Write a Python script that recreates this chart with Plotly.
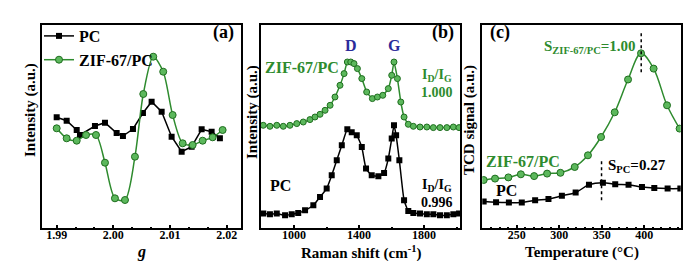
import plotly.graph_objects as go

# ---------------- data ----------------
# (a) EPR
a_pc_g = [1.9900, 1.99176, 1.99353, 1.99411, 1.99675, 1.99852, 2.00058, 2.00169, 2.00346,
          2.00522, 2.00675, 2.00852, 2.01028, 2.01205, 2.01381, 2.01558, 2.01734, 2.01880]
a_pc_i = [12.7, 9.3, 0.0, -5.0, 4.0, 7.3, -3.0, -6.0, 1.0,
          17.0, 28.3, 18.3, -6.7, -21.7, -16.7, 0.7, -1.7, -8.3]
a_zif_g = [1.99000, 1.99176, 1.99353, 1.99517, 1.99693, 1.99852, 2.00028, 2.00205, 2.00381,
           2.00528, 2.00704, 2.00880, 2.01046, 2.01223, 2.01399, 2.01575, 2.01752, 2.01928]
a_zif_i = [1.7, -8.3, -10.7, -5.0, -5.0, -32.7, -68.3, -70.0, -26.7,
           36.0, 73.3, 58.3, 15.0, -13.3, -15.0, -10.7, -7.3, 0.0]

# (b) Raman
b_zif_x = [811, 852, 894, 934, 975, 1017, 1057, 1098, 1129, 1160, 1191, 1222, 1252, 1283, 1308,
           1328, 1349, 1369, 1390, 1417, 1447, 1482, 1513, 1546, 1580, 1601, 1615, 1636, 1657,
           1677, 1703, 1734, 1775, 1817, 1857, 1898, 1940, 1980, 2015]
b_zif_y = [103, 102, 103, 102, 103, 104.7, 106.3, 108.7, 111.3, 114, 118, 123, 131.3, 143, 154.7,
           166.3, 166.3, 164.7, 159.7, 149.7, 136.3, 129.7, 131.3, 133, 139.7, 153, 166.3, 149.7, 126.3,
           111.3, 104, 102, 101.3, 101.3, 100.7, 100.7, 100.7, 101.3, 100.7]
b_pc_x = [811, 852, 894, 945, 986, 1026, 1068, 1119, 1160, 1201, 1232, 1263, 1294, 1328, 1355,
          1386, 1417, 1443, 1478, 1519, 1554, 1580, 1601, 1615, 1628, 1648, 1677, 1703, 1734, 1775,
          1817, 1857, 1898, 1940, 1980, 2015]
b_pc_y = [14.7, 14, 14.7, 13, 14, 15.3, 18, 23, 31.3, 39.7, 53, 68, 83, 99, 96,
          93, 81.3, 59.7, 53, 52, 55.3, 69.7, 89.7, 103, 93, 68, 28, 17.3, 15.3, 14.7,
          14, 14, 13, 13, 14, 14.7]

# (c) TPD
c_zif_t = [211, 224.4, 240.1, 254.8, 270.4, 285.7, 301.4, 318.2, 333.8, 349.2, 365.3, 381.0,
           396.3, 411.1, 426.9, 441.7]
c_zif_s = [48.3, 49.7, 50.9, 54.0, 52.2, 54.7, 55.5, 61.3, 73.0, 91.3, 116.0, 148.8,
           175.0, 159.7, 123.0, 99.7]
c_pc_t = [211, 225.6, 240.7, 255.9, 271.6, 287.3, 303.1, 319.3, 335.0, 351.4, 365.9, 381.6,
          397.4, 411.9, 427.6, 442.6]
c_pc_s = [26.7, 26.0, 25.7, 25.7, 28.0, 29.3, 32.5, 35.8, 43.5, 45.5, 44.0, 43.5,
          41.3, 40.2, 39.7, 39.7]

a_ticks = [1.99, 2.00, 2.01, 2.02]
b_ticks = [1000, 1400, 1800]
c_ticks = [250, 300, 350, 400]

# ---------------- style ----------------
# the page body has an 8px margin, so the figure is drawn 16px smaller and offset
OFF = 8
W, H = 700 - 2 * OFF, 269 - 2 * OFF
FONT = "Liberation Serif"
GREEN = "#2e8b2e"
GREEN_FILL = "#5cb85c"
BLUE = "#2b2b9a"


def px(x):
    return (x - OFF) / W


def py(y):
    return 1 - (y - OFF) / H


ytop, ybot = 25, 228.3
dom_y = [py(ybot), py(ytop)]
doms = [[42.3, 240.7], [261, 460], [482.3, 680.7]]

fig = go.Figure()

green_marker = dict(symbol="circle", size=7, color=GREEN_FILL, line=dict(color="#1f6e1f", width=1))
black_marker = dict(symbol="square", size=6, color="black")

# (a)
fig.add_trace(go.Scatter(x=a_pc_g, y=a_pc_i, mode="lines+markers", name="PC",
                         line=dict(color="black", width=1.5), marker=black_marker,
                         xaxis="x", yaxis="y"))
fig.add_trace(go.Scatter(x=a_zif_g, y=a_zif_i, mode="lines+markers", name="ZIF-67/PC",
                         line=dict(color=GREEN, width=1.5, shape="spline", smoothing=0.8),
                         marker=green_marker, xaxis="x", yaxis="y"))
# (b)
fig.add_trace(go.Scatter(x=b_zif_x, y=b_zif_y, mode="lines+markers", showlegend=False,
                         line=dict(color=GREEN, width=1.5, shape="spline", smoothing=0.4),
                         marker=dict(green_marker, size=6), xaxis="x2", yaxis="y2"))
fig.add_trace(go.Scatter(x=b_pc_x, y=b_pc_y, mode="lines+markers", showlegend=False,
                         line=dict(color="black", width=1.5, shape="spline", smoothing=0.4),
                         marker=black_marker, xaxis="x2", yaxis="y2"))
# (c)
fig.add_trace(go.Scatter(x=c_zif_t, y=c_zif_s, mode="lines+markers", showlegend=False,
                         line=dict(color=GREEN, width=1.5, shape="spline", smoothing=1.0),
                         marker=green_marker, xaxis="x3", yaxis="y3"))
fig.add_trace(go.Scatter(x=c_pc_t, y=c_pc_s, mode="lines+markers", showlegend=False,
                         line=dict(color="black", width=1.5, shape="spline", smoothing=1.0),
                         marker=black_marker, xaxis="x3", yaxis="y3"))

tickfont = dict(family=FONT, size=12, color="black", weight="bold")
common_x = dict(showline=True, mirror=True, linecolor="black", linewidth=1.5,
                ticks="inside", ticklen=4, tickwidth=1.5, tickcolor="black",
                ticklabelstandoff=-5,
                showgrid=False, zeroline=False, tickfont=tickfont)
common_y = dict(showline=True, mirror=True, linecolor="black", linewidth=1.5,
                ticks="", showticklabels=False, showgrid=False, zeroline=False)

fig.update_layout(
    width=W, height=H, margin=dict(l=0, r=0, t=0, b=0),
    paper_bgcolor="white", plot_bgcolor="white",
    xaxis=dict(common_x, domain=[px(doms[0][0]), px(doms[0][1])], range=[1.98746, 2.02247],
               tickvals=a_ticks, ticktext=[f"{v:.2f}" for v in a_ticks],
               minor=dict(ticks="inside", ticklen=2, tickcolor="black", dtick=0.01 / 3, tick0=1.99)),
    yaxis=dict(common_y, domain=dom_y, range=[-98.3, 105]),
    xaxis2=dict(common_x, domain=[px(doms[1][0]), px(doms[1][1])], range=[797, 2021],
                tickvals=b_ticks,
                minor=dict(ticks="inside", ticklen=2, tickcolor="black", dtick=200, tick0=0)),
    yaxis2=dict(common_y, domain=dom_y, range=[0, 203.3], anchor="x2"),
    xaxis3=dict(common_x, domain=[px(doms[2][0]), px(doms[2][1])], range=[209.4, 443],
                tickvals=c_ticks,
                minor=dict(ticks="inside", ticklen=2, tickcolor="black", dtick=10, tick0=0)),
    yaxis3=dict(common_y, domain=dom_y, range=[0, 203.3], anchor="x3"),
    legend=dict(x=px(39), y=py(19), xanchor="left", yanchor="top",
                bgcolor="rgba(0,0,0,0)", itemwidth=30, tracegroupgap=0,
                font=dict(family=FONT, size=16, color="black", weight="bold")),
    showlegend=True,
)
fig.update_layout(xaxis2_anchor="y2", xaxis3_anchor="y3")

# dashed guide lines in (c)
fig.add_shape(type="line", xref="x3", yref="y3", x0=396.5, x1=396.5, y0=156, y1=195,
              line=dict(color="black", width=1.5, dash="dot"))
fig.add_shape(type="line", xref="x3", yref="y3", x0=349.8, x1=349.8, y0=28, y1=67,
              line=dict(color="black", width=1.5, dash="dot"))


def ann(text, x, y, size=15, color="black", xanchor="center", angle=0):
    fig.add_annotation(text=text, x=px(x), y=py(y), xref="paper", yref="paper",
                       showarrow=False, xanchor=xanchor, yanchor="middle", textangle=angle,
                       font=dict(family=FONT, size=size, color=color, weight="bold"))


# panel labels
ann("(a)", 223, 33, size=18)
ann("(b)", 443, 33, size=18)
ann("(c)", 500, 33, size=18)

# axis titles
ann("<i>g</i>", 141.5, 252, size=16)
ann("Raman shift (cm<sup>-1</sup>)", 360.5, 252, size=15)
ann("Temperature (°C)", 581.5, 252, size=15)
ann("Intensity (a.u.)", 30, 110, size=15, angle=-90)
ann("Intensity (a.u.)", 252, 112, size=15, angle=-90)
ann("TCD signal (a.u.)", 469, 120, size=15, angle=-90)

# (b) texts
ann("D", 350.5, 45, size=16, color=BLUE)
ann("G", 394, 45, size=16, color=BLUE)
ann("ZIF-67/PC", 263, 67, size=16, color=GREEN, xanchor="left")
ann("I<sub>D</sub>/I<sub>G</sub><br>1.000", 437, 83, size=14, color=GREEN)
ann("PC", 280, 185, size=16)
ann("I<sub>D</sub>/I<sub>G</sub><br>0.996", 437, 193, size=14)

# (c) texts
ann("S<sub>ZIF-67/PC</sub>=1.00", 638, 47, size=15, color=GREEN, xanchor="right")
ann("ZIF-67/PC", 484, 161, size=16, color=GREEN, xanchor="left")
ann("S<sub>PC</sub>=0.27", 606, 166, size=15, xanchor="left")
ann("PC", 494, 190, size=16, xanchor="left")

fig.write_html("out.html")
